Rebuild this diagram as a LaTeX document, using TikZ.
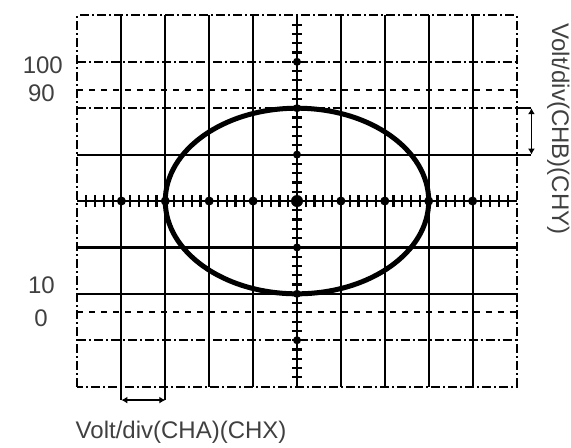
\documentclass[tikz,border=0pt]{standalone}
\usepackage{fontspec}
\setmainfont{Liberation Sans}
\usetikzlibrary{arrows.meta}
\begin{document}
\begin{tikzpicture}[x=43.9pt,y=46.4pt,
grd/.style={line width=2.2pt},
brk/.style={line width=2pt,dash pattern=on 9pt off 3pt on 2pt off 3pt},
lvl/.style={line width=1.8pt,dash pattern=on 6pt off 6pt},
dim/.style={line width=1.8pt,{Latex[length=6pt,width=7pt]}-{Latex[length=6pt,width=7pt]}},
lbl/.style={text=black!75,font=\fontsize{24}{28}\selectfont,inner sep=0pt}]
\useasboundingbox (-6.765,-5.302) rectangle (6.241,4.332);
\foreach \x in {-4,-3,-2,-1,1,2,3,4} \draw[grd] (\x,-4) -- (\x,4);
\foreach \y in {-2,-1,1} \draw[grd] (-5,\y) -- (5,\y);
\foreach \y in {3,2,-3} \draw[brk] (-5,\y) -- (5,\y);
\draw[brk] (-5,-4) rectangle (5,4);
\draw[lvl] (-5,2.4) -- (5,2.4);
\draw[lvl] (-5,-2.4) -- (5,-2.4);
\draw[grd] (-5,0) -- (5,0);
\draw[grd] (0,-4) -- (0,4);
\foreach \i in {-24,...,24} \draw[line width=2.2pt] (\i/5,-0.12) -- (\i/5,0.12);
\foreach \i in {-19,...,19} \draw[line width=2.2pt] (-0.11,\i/5) -- (0.11,\i/5);
\foreach \x in {-4,...,4} \fill (\x,0) circle (4.5pt);
\foreach \y in {-3,...,3} \fill (0,\y) circle (4pt);
\fill (0,0) circle (6pt);
\draw[line width=5pt] (0,0) ellipse [x radius=3,y radius=2];
\coordinate (b1) at (5,2);
\coordinate (b2) at (5,1);
\coordinate (b3) at (5.34,2);
\coordinate (b4) at (5.34,1);
\draw[grd] (b1) -- (b3);
\draw[grd] (b2) -- (b4);
\draw[dim] (b3) -- (b4);
\coordinate (a1) at (-4,-4);
\coordinate (a2) at (-3,-4);
\coordinate (a3) at (-4,-4.29);
\coordinate (a4) at (-3,-4.29);
\draw[grd] (a1) -- (a3);
\draw[grd] (a2) -- (a4);
\draw[dim] (a3) -- (a4);
\node[lbl] (v100) at (-5.79,2.93) {100};
\node[lbl] (v90) at (-5.82,2.33) {90};
\node[lbl] (v10) at (-5.82,-1.81) {10};
\node[lbl] (v0) at (-5.83,-2.52) {0};
\node[lbl] (chx) at (-2.64,-4.98) {Volt/div(CHA)(CHX)};
\node[lbl,rotate=-90] (chy) at (5.95,1.55) {Volt/div(CHB)(CHY)};
\end{tikzpicture}
\end{document}
